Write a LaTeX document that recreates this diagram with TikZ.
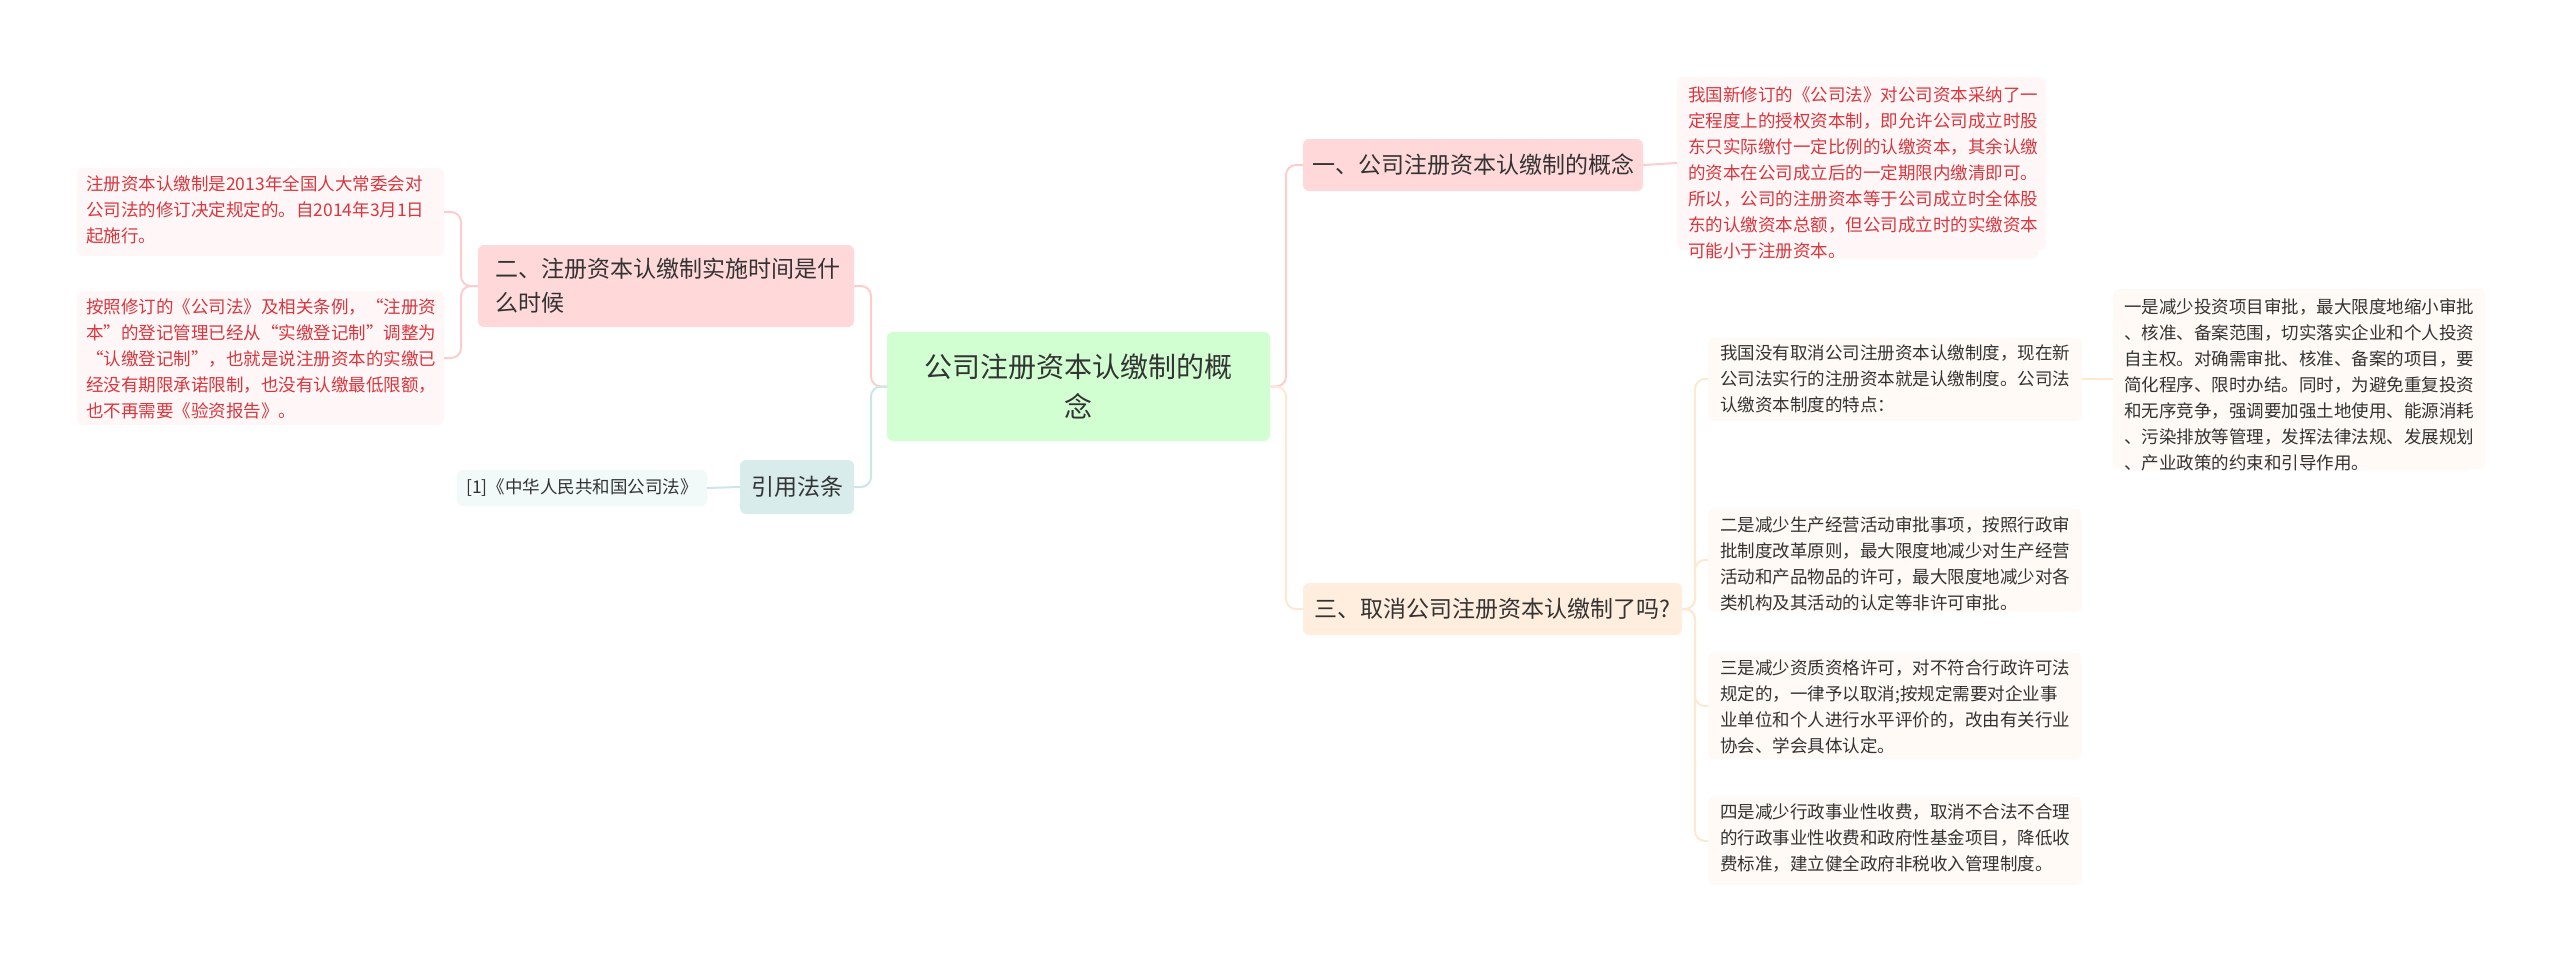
\documentclass[tikz,border=0pt]{standalone}
\usepackage{fontspec}
\setmainfont{Noto Sans CJK SC}
\usetikzlibrary{calc}
\definecolor{redt}{HTML}{D9363E}
\definecolor{dark}{HTML}{333333}
\tikzset{
 base/.style={rounded corners=6pt,inner sep=0pt,align=left,anchor=north west},
 leafred/.style={base,fill=red!3,text=redt,font=\fontsize{17.5}{26}\selectfont},
 leafbeige/.style={base,fill=orange!4,text=dark,font=\fontsize{17.5}{26}\selectfont},
 conn/.style={line width=2pt,rounded corners=10pt},
}
\newcommand{\bx}[6]{% name, style, x1,y1,x2,y2 ... text via node after
}
\begin{document}
\begin{tikzpicture}[x=1pt,y=-1pt]
\useasboundingbox (0,0) rectangle (2560,958);
% center
\fill[green!20!white,fill=green!18,rounded corners=6pt] (887,332) rectangle (1270,441);
\node[align=center,text=dark,font=\fontsize{28}{40}\selectfont] (c) at (1078.5,386.5) {公司注册资本认缴制的概\\念};
\coordinate (cE) at (1270,386.5);
\coordinate (cW) at (887,386.5);
% branch 1
\fill[red!15,rounded corners=6pt] (1303,139) rectangle (1643,191);
\node[text=dark,font=\fontsize{23}{30}\selectfont] (b1) at (1473,165) {一、公司注册资本认缴制的概念};
\coordinate (b1W) at (1303,165); \coordinate (b1E) at (1643,165);
% branch 3
\fill[orange!13,rounded corners=6pt] (1303,583) rectangle (1682,635);
\node[text=dark,font=\fontsize{23}{30}\selectfont] (b3) at (1492.5,609) {三、取消公司注册资本认缴制了吗?};
\coordinate (b3W) at (1303,609); \coordinate (b3E) at (1682,609);
% branch 2
\fill[red!15,rounded corners=6pt] (478,245) rectangle (854,327);
\node[text=dark,align=left,anchor=west,font=\fontsize{23}{34}\selectfont] (b2) at (492,286) {二、注册资本认缴制实施时间是什\\么时候};
\coordinate (b2W) at (478,286); \coordinate (b2E) at (854,286);
% branch 4
\fill[teal!15,rounded corners=6pt] (740,460) rectangle (854,514);
\node[text=dark,font=\fontsize{23}{30}\selectfont] (b4) at (797,487) {引用法条};
\coordinate (b4W) at (740,487); \coordinate (b4E) at (854,487);
% leaves
\fill[red!3,rounded corners=6pt] (1677,77) rectangle (2046,250);
\node[leafred] (l1) at (1688,86) {我国新修订的《公司法》对公司资本采纳了一\\定程度上的授权资本制，即允许公司成立时股\\东只实际缴付一定比例的认缴资本，其余认缴\\的资本在公司成立后的一定期限内缴清即可。\\所以，公司的注册资本等于公司成立时全体股\\东的认缴资本总额，但公司成立时的实缴资本\\可能小于注册资本。};
\coordinate (l1W) at (1677,163);
\fill[orange!4,rounded corners=6pt] (1708,338) rectangle (2082,421);
\node[leafbeige] (l3a) at (1720,345) {我国没有取消公司注册资本认缴制度，现在新\\公司法实行的注册资本就是认缴制度。公司法\\认缴资本制度的特点：};
\coordinate (l3aW) at (1708,379); \coordinate (l3aE) at (2082,379);
\fill[orange!4,rounded corners=6pt] (2113,289) rectangle (2485,469);
\node[leafbeige] (l3a1) at (2124,298) {一是减少投资项目审批，最大限度地缩小审批\\、核准、备案范围，切实落实企业和个人投资\\自主权。对确需审批、核准、备案的项目，要\\简化程序、限时办结。同时，为避免重复投资\\和无序竞争，强调要加强土地使用、能源消耗\\、污染排放等管理，发挥法律法规、发展规划\\、产业政策的约束和引导作用。};
\coordinate (l3a1W) at (2113,379);
\fill[orange!4,rounded corners=6pt] (1708,509) rectangle (2082,612);
\node[leafbeige] (l3b) at (1720,516) {二是减少生产经营活动审批事项，按照行政审\\批制度改革原则，最大限度地减少对生产经营\\活动和产品物品的许可，最大限度地减少对各\\类机构及其活动的认定等非许可审批。};
\coordinate (l3bW) at (1708,560);
\fill[orange!4,rounded corners=6pt] (1708,653) rectangle (2082,759);
\node[leafbeige] (l3c) at (1720,660) {三是减少资质资格许可，对不符合行政许可法\\规定的，一律予以取消;按规定需要对企业事\\业单位和个人进行水平评价的，改由有关行业\\协会、学会具体认定。};
\coordinate (l3cW) at (1708,706);
\fill[orange!4,rounded corners=6pt] (1708,797) rectangle (2082,885);
\node[leafbeige] (l3d) at (1720,804) {四是减少行政事业性收费，取消不合法不合理\\的行政事业性收费和政府性基金项目，降低收\\费标准，建立健全政府非税收入管理制度。};
\coordinate (l3dW) at (1708,841);
\fill[red!3,rounded corners=6pt] (77,168) rectangle (444,256);
\node[leafred] (l2a) at (86,175) {注册资本认缴制是2013年全国人大常委会对\\公司法的修订决定规定的。自2014年3月1日\\起施行。};
\coordinate (l2aE) at (444,212);
\fill[red!3,rounded corners=6pt] (77,291) rectangle (444,425);
\node[leafred] (l2b) at (86,298) {按照修订的《公司法》及相关条例，“注册资\\本”的登记管理已经从“实缴登记制”调整为\\“认缴登记制”，也就是说注册资本的实缴已\\经没有期限承诺限制，也没有认缴最低限额，\\也不再需要《验资报告》。};
\coordinate (l2bE) at (444,358);
\fill[teal!5,rounded corners=6pt] (457,470) rectangle (707,506);
\node[text=dark,font=\fontsize{17.5}{26}\selectfont] (l4) at (582,488) {[1]《中华人民共和国公司法》};
\coordinate (l4E) at (707,488);
% connectors
\draw[conn,red!20] (cE) -- ++(16,0) |- (b1W);
\draw[conn,orange!18] (cE) -- ++(16,0) |- (b3W);
\draw[conn,red!20] (cW) -- ++(-16,0) |- (b2E);
\draw[conn,teal!20] (cW) -- ++(-16,0) |- (b4E);
\draw[conn,red!20] (b1E) -- (l1W);
\draw[conn,orange!18] (b3E) -- ++(13,0) |- (l3aW);
\draw[conn,orange!18] (b3E) -- ++(13,0) |- (l3bW);
\draw[conn,orange!18] (b3E) -- ++(13,0) |- (l3cW);
\draw[conn,orange!18] (b3E) -- ++(13,0) |- (l3dW);
\draw[conn,orange!18] (l3aE) -- (l3a1W);
\draw[conn,red!20] (b2W) -- ++(-17,0) |- (l2aE);
\draw[conn,red!20] (b2W) -- ++(-17,0) |- (l2bE);
\draw[conn,teal!20] (b4W) -- (l4E);
\end{tikzpicture}
\end{document}
